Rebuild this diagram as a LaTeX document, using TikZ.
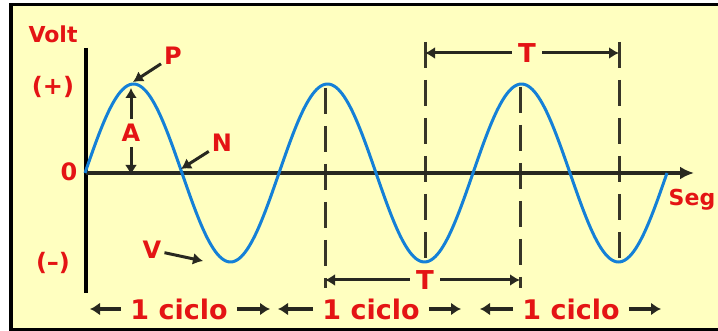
\documentclass[tikz,border=0pt]{standalone}
\usepackage{fontspec}
\setmainfont{DejaVu Sans}
\usetikzlibrary{arrows.meta}
\definecolor{bgyel}{RGB}{255,255,192}
\definecolor{lblred}{RGB}{228,20,20}
\definecolor{wavec}{RGB}{20,128,215}
\definecolor{axc}{RGB}{40,40,32}
\definecolor{dshc}{RGB}{55,53,40}
\tikzset{
  lbl/.style={text=lblred, font=\bfseries\fontsize{24}{24}\selectfont, inner sep=3pt},
  sidelbl/.style={text=lblred, font=\bfseries\fontsize{22}{22}\selectfont, inner sep=0pt},
  perlbl/.style={text=lblred, font=\bfseries\fontsize{26}{26}\selectfont, inner xsep=6pt, inner ysep=0pt},
  cyclbl/.style={text=lblred, font=\bfseries\fontsize{27}{27}\selectfont, inner xsep=9pt, inner ysep=0pt},
  axisline/.style={draw=axc, line width=3.5pt},
  guide/.style={draw=dshc, line width=3pt, dash pattern=on 26pt off 12pt},
  pointer/.style={draw=axc, line width=3pt, -{Latex[length=10pt,width=12pt]}},
  cycptr/.style={draw=axc, line width=3.5pt, -{Latex[length=10pt,width=13pt]}},
}
\begin{document}
\begin{tikzpicture}[x=1pt,y=-1pt]
\useasboundingbox (0,0) rectangle (718,331);
\clip (0,0) rectangle (718,331);
\fill[white] (0,0) rectangle (718,331);
\draw[fill=bgyel, line width=3.5pt] (11,4.5) rectangle (730,329.5);

% guide lines
\coordinate (d1t) at (325,88);  \coordinate (d1b) at (325,288);
\coordinate (d2t) at (425,42);  \coordinate (d2b) at (425,263);
\coordinate (d3t) at (520,87);  \coordinate (d3b) at (520,288);
\coordinate (d4t) at (619,42);  \coordinate (d4b) at (619,268);
\draw[guide] (d1t) -- (d1b);
\draw[guide] (d2t) -- (d2b);
\draw[guide] (d3t) -- (d3b);
\draw[guide] (d4t) -- (d4b);

% axes
\coordinate (ytop) at (86,48); \coordinate (ybot) at (86,293);
\draw[axisline, draw=black, line width=4.5pt] (ytop) -- (ybot);
\coordinate (xo) at (86,173); \coordinate (xend) at (694,173);
\draw[axisline, -{Latex[length=14pt,width=13pt]}] (xo) -- (xend);

% wave
\draw[wavec, line width=3pt] plot[domain=0:582, samples=300, smooth] ({85+\x},{173-89*sin(1.8556701*\x)});

% axis labels
\node[sidelbl] (volt) at (53,34) {Volt};
\node[lbl, inner sep=0pt] (plus) at (53,87) {(+)};
\node[lbl, inner sep=0pt] (zero) at (69,172) {0};
\node[lbl, inner sep=0pt] (minus) at (53,263) {(–)};
\node[sidelbl] (seg) at (692,200) {Seg};

% P, A, N, V
\node[lbl] (P) at (173,56) {P};
\coordinate (ptip) at (133,82);
\draw[pointer] (P) -- (ptip);

\node[lbl, inner xsep=0pt, inner ysep=5pt] (A) at (131,133) {A};
\coordinate (atop) at (131,88);
\coordinate (abot) at (131,175);
\draw[pointer] (A) -- (atop);
\draw[pointer] (A) -- (abot);

\node[lbl] (N) at (222,143) {N};
\coordinate (ntip) at (181,169);
\draw[pointer] (N) -- (ntip);

\node[lbl] (V) at (152,250) {V};
\coordinate (vtip) at (203,261);
\draw[pointer] (V) -- (vtip);

% periods
\node[perlbl] (Ttop) at (527,53) {T};
\coordinate (ttl) at (425,53); \coordinate (ttr) at (619,53);
\draw[pointer] (Ttop) -- (ttl);
\draw[pointer] (Ttop) -- (ttr);

\node[perlbl] (Tbot) at (425,280) {T};
\coordinate (tbl) at (325,280); \coordinate (tbr) at (520,280);
\draw[pointer] (Tbot) -- (tbl);
\draw[pointer] (Tbot) -- (tbr);

% cycles
\node[cyclbl] (c1) at (179,309) {1 ciclo};
\coordinate (c1l) at (90,309); \coordinate (c1r) at (270,309);
\draw[cycptr] (c1) -- (c1l);
\draw[cycptr] (c1) -- (c1r);

\node[cyclbl] (c2) at (371,309) {1 ciclo};
\coordinate (c2l) at (278,309); \coordinate (c2r) at (461,309);
\draw[cycptr] (c2) -- (c2l);
\draw[cycptr] (c2) -- (c2r);

\node[cyclbl] (c3) at (571,309) {1 ciclo};
\coordinate (c3l) at (480,309); \coordinate (c3r) at (661,309);
\draw[cycptr] (c3) -- (c3l);
\draw[cycptr] (c3) -- (c3r);
\end{tikzpicture}
\end{document}
